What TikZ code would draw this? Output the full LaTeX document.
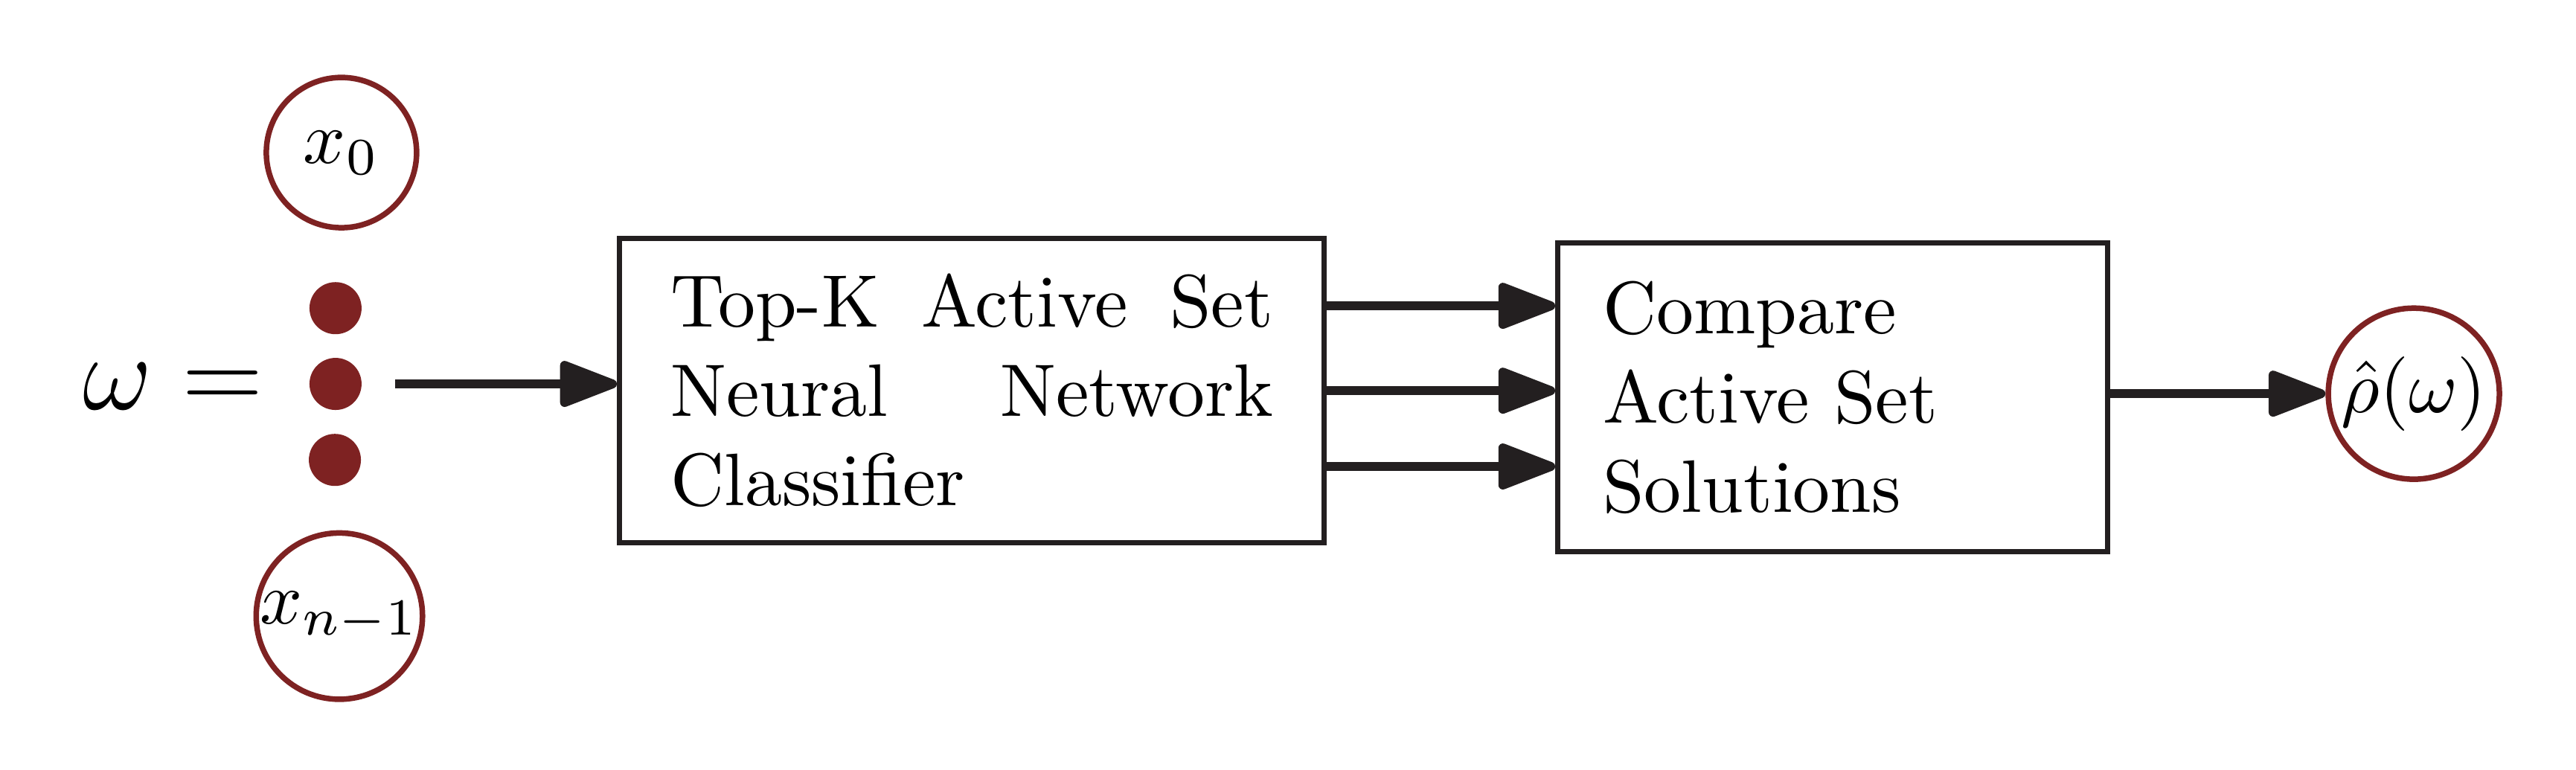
\documentclass[tikz,border=0pt]{standalone}
\usepackage{amsmath}
\usetikzlibrary{arrows.meta}
\definecolor{vred}{RGB}{126,34,34}
\definecolor{ink}{RGB}{35,31,32}
\tikzstyle{var}=[circle, draw=vred, line width=0.75pt, minimum size=20.2pt, inner sep=0pt]
\tikzstyle{dot}=[circle, fill=vred, minimum size=7pt, inner sep=0pt]
\tikzstyle{blk}=[rectangle, draw=ink, line width=0.7pt, inner sep=0pt]
\tikzstyle{flow}=[ink, line width=1.2pt, -{Triangle[length=8.8pt,width=6.4pt,round]}]

\begin{document}
\begin{tikzpicture}
  \useasboundingbox (0,0) rectangle (12.169,3.635);
  \node (omega) at (0.819,1.81) {\Large $\omega =$};
  \node[var] (x0) at (1.613,2.914) {$x_0$};
  \node[dot] (d1) at (1.585,2.179) {};
  \node[dot] (d2) at (1.585,1.821) {};
  \node[dot] (d3) at (1.582,1.462) {};
  \node[var] (xn) at (1.603,0.724) {$x_{n-1}$};

  \node[blk, minimum width=94.7pt, minimum height=40.9pt, text width=81pt, align=justify] (topk) at (4.591,1.789)
       {Top-K Active Set Neural Network Classifier};
  \node[blk, minimum width=73.9pt, minimum height=41.5pt, text width=61.8pt, align=left] (cmp) at (8.658,1.758)
       {Compare\\ Active Set\\ Solutions};
  \node[var, minimum size=23pt] (rho) at (11.403,1.775) {$\hat{\rho}(\omega)$};

  %\tikzstyle{flow}=[->]
  \draw[flow, shorten <=4.3pt] (d2.east) -- (d2 -| topk.west);
  \draw[flow] ([yshift=0.401cm]topk.east) -- ([yshift=0.401cm]topk.east -| cmp.west);
  \draw[flow] (topk.east) -- (topk.east -| cmp.west);
  \draw[flow] ([yshift=-0.358cm]topk.east) -- ([yshift=-0.358cm]topk.east -| cmp.west);
  \draw[flow] (cmp.east |- rho.west) -- (rho.west);
\end{tikzpicture}
\end{document}
